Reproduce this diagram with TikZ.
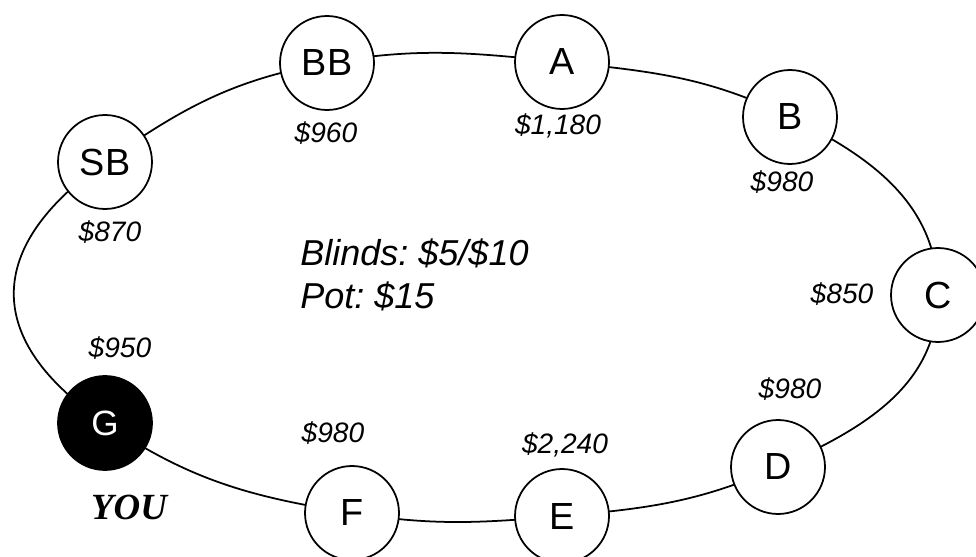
\documentclass[tikz,border=0pt]{standalone}
\usepackage{fontspec}
\setmainfont{Liberation Sans}
\newfontfamily\youfont{Liberation Serif}
\usetikzlibrary{backgrounds}
\frenchspacing
\begin{document}
\begin{tikzpicture}[x=0.02cm,y=-0.02cm,
  seat/.style={circle,draw,line width=1pt,fill=white,minimum size=1.88cm,inner sep=0pt,font=\fontsize{21.5}{24}\selectfont},
  youseat/.style={seat,fill=black,text=white,font=\fontsize{20}{24}\selectfont},
  chips/.style={font=\fontsize{16}{19}\selectfont\itshape,inner sep=0pt},
  info/.style={font=\fontsize{20.5}{24}\selectfont\itshape,anchor=base west,inner sep=0pt},
  ring/.style={line width=1pt}]
\useasboundingbox (0,0) rectangle (976,557);
% seats
\node[seat] (SB) at (105,162) {SB};
\node[seat] (BB) at (327,63) {BB};
\node[seat] (A) at (562,62) {A};
\node[seat] (B) at (790,117) {B};
\node[seat] (C) at (938,295) {C};
\node[seat] (D) at (778,467) {D};
\node[seat] (E) at (562,516) {E};
\node[seat] (F) at (352,513) {F};
\node[youseat] (G) at (105,423) {G};
% ring
\begin{scope}[on background layer]
\draw[ring] (SB.center) to[out=35,in=190] (BB.center)
  to[out=10,in=174] (A.center)
  to[out=-6,in=154] (B.center)
  to[out=-26,in=90] (C.center)
  to[out=-90,in=24] (D.center)
  to[out=204,in=5] (E.center)
  to[out=185,in=-9] (F.center)
  to[out=171,in=-34] (G.center)
  to[out=146,in=215,looseness=1.45] (SB.center);
\end{scope}
% stacks
\node[chips] (lBB) at (326,133) {\$960};
\node[chips] (lA) at (558,126) {\$1,180};
\node[chips] (lB) at (782,182) {\$980};
\node[chips] (lSB) at (110,232) {\$870};
\node[chips] (lC) at (842,294) {\$850};
\node[chips] (lG) at (120,348) {\$950};
\node[chips] (lD) at (790,389) {\$980};
\node[chips] (lF) at (333,433) {\$980};
\node[chips] (lE) at (565,445) {\$2,240};
\node[font=\youfont\bfseries\itshape\fontsize{21}{24}\selectfont,inner sep=0pt] (you) at (129,507) {YOU};
% info
\node[info] (blinds) at (300,265) {Blinds: \$5/\$10};
\node[info] (pot) at (300,308) {Pot: \$15};
\end{tikzpicture}
\end{document}
